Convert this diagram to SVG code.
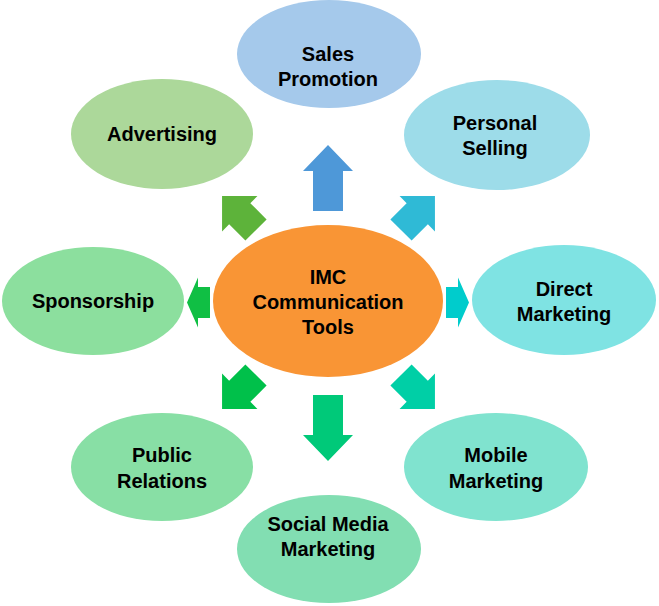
<svg xmlns="http://www.w3.org/2000/svg" width="659" height="606" viewBox="0 0 659 606">
<style>
text{font-family:"Liberation Sans",Arial,sans-serif;font-weight:bold;font-size:20px;fill:#000;text-anchor:middle}
</style>
<defs>
<polygon id="arrLong" points="0,-15 40,-15 40,-25 66,0 40,25 40,15 0,15"/>
<polygon id="arrDiag" points="0,-15 23,-15 23,-25 48,0 23,25 23,15 0,15"/>
<polygon id="arrShort" points="0,-15.5 12,-15.5 12,-25 23,0 12,25 12,15.5 0,15.5"/>
</defs>
<rect width="659" height="606" fill="#fff"/>
<g id="connectors">
<use href="#arrLong" transform="translate(328,211) rotate(-90)" fill="#4e98d8"/>
<use href="#arrLong" transform="translate(328,395) rotate(90)" fill="#00c979"/>
<use href="#arrShort" transform="translate(210,302.5) rotate(180)" fill="#10bf44"/>
<use href="#arrShort" transform="translate(446,302.5)" fill="#00cccc"/>
<use href="#arrDiag" transform="translate(256,230) rotate(-135)" fill="#5db33a"/>
<use href="#arrDiag" transform="translate(401,230) rotate(-45)" fill="#2fbad6"/>
<use href="#arrDiag" transform="translate(256,375) rotate(135)" fill="#00c04a"/>
<use href="#arrDiag" transform="translate(401,375) rotate(45)" fill="#00cfa6"/>
</g>
<g id="center">
<ellipse cx="328" cy="301" rx="115" ry="76" fill="#f99535"/>
<text x="328" y="284">IMC</text>
<text x="328" y="309">Communication</text>
<text x="328" y="334">Tools</text>
</g>
<g id="sales-promotion">
<ellipse cx="329" cy="54" rx="92" ry="54" fill="#a5c9eb"/>
<text x="328" y="61">Sales</text>
<text x="328" y="86">Promotion</text>
</g>
<g id="personal-selling">
<ellipse cx="497" cy="135" rx="93" ry="55" fill="#9ddce9"/>
<text x="495" y="130">Personal</text>
<text x="495" y="155">Selling</text>
</g>
<g id="direct-marketing">
<ellipse cx="564" cy="300" rx="92" ry="55" fill="#7fe3e3"/>
<text x="564" y="296">Direct</text>
<text x="564" y="321">Marketing</text>
</g>
<g id="mobile-marketing">
<ellipse cx="496" cy="467" rx="92" ry="54" fill="#80e3cf"/>
<text x="496" y="462">Mobile</text>
<text x="496" y="488">Marketing</text>
</g>
<g id="social-media-marketing">
<ellipse cx="329" cy="549" rx="92" ry="54" fill="#82deb2"/>
<text x="328" y="531">Social Media</text>
<text x="328" y="556">Marketing</text>
</g>
<g id="public-relations">
<ellipse cx="162" cy="467" rx="91" ry="54" fill="#88dfa5"/>
<text x="162" y="462">Public</text>
<text x="162" y="488">Relations</text>
</g>
<g id="sponsorship">
<ellipse cx="93" cy="301" rx="91" ry="54" fill="#8cdf9e"/>
<text x="93" y="308">Sponsorship</text>
</g>
<g id="advertising">
<ellipse cx="162" cy="134" rx="91" ry="55" fill="#acd89a"/>
<text x="162" y="141">Advertising</text>
</g>
</svg>
